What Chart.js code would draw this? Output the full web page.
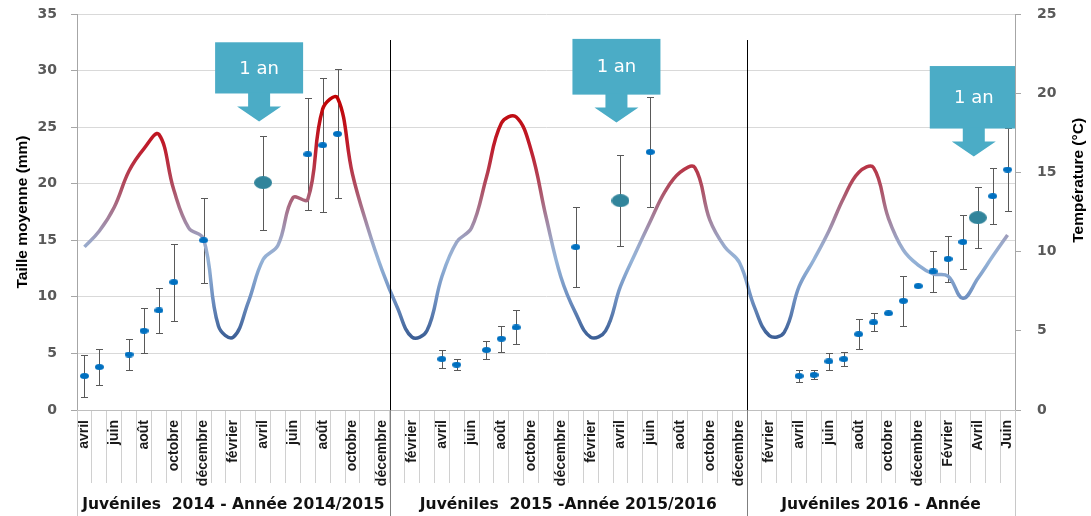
<!DOCTYPE html>
<html lang="fr">
<head>
<meta charset="utf-8">
<title>Taille moyenne des juvéniles et température</title>
<script src="https://cdn.jsdelivr.net/npm/chart.js@4.4.1/dist/chart.umd.min.js"></script>
<style>
  html, body { margin: 0; padding: 0; background: #fff; }
  #wrap { width: 1091px; height: 516px; position: relative; }
</style>
</head>
<body>
<div id="wrap"><canvas id="chart"></canvas></div>
<script>
// one category per month, a label shown every second month
const months = [
  "avril", "mai", "juin", "juillet", "août", "septembre", "octobre", "novembre", "décembre",
  "janvier", "février", "mars", "avril", "mai", "juin", "juillet", "août", "septembre", "octobre", "novembre", "décembre",
  "janvier", "février", "mars", "avril", "mai", "juin", "juillet", "août", "septembre", "octobre", "novembre", "décembre",
  "janvier", "février", "mars", "avril", "mai", "juin", "juillet", "août", "septembre", "octobre", "novembre", "décembre",
  "janvier", "février", "mars", "avril", "mai", "juin", "juillet", "août", "septembre", "octobre", "novembre", "décembre",
  "janvier", "Février", "mars", "Avril", "mai", "Juin"
];

// cohorts (first month index of each block)
const sectionTitles = ["Juvéniles  2014 - Année 2014/2015", "Juvéniles  2015 -Année 2015/2016", "Juvéniles 2016 - Année"];
const sectionStarts = [0, 21, 45];

// water temperature (°C), right axis
const temperature = [
  10.3, 11.3, 12.8, 15.1, 16.5, 17.4, 13.9, 11.5, 10.8,
  5.3, 4.6, 6.8, 9.5, 10.4, 13.4, 13.3, 19.0, 19.7, 14.9, 11.6, 8.8,
  6.5, 4.6, 5.0, 8.4, 10.6, 11.5, 14.7, 18.1, 18.5, 16.4, 12.2, 8.4,
  6.1, 4.6, 5.0, 7.8, 9.9, 11.9, 13.8, 15.0, 15.3, 12.0, 10.3, 9.3,
  6.5, 4.7, 4.9, 7.8, 9.5, 11.3, 13.4, 15.0, 15.3, 12.1, 10.1, 9.15,
  8.6, 8.45, 7.05, 8.3, 9.7, 11.05
];

// mean size (mm) and its error, left axis
const meanSize = [
  3.0, 3.8, null, 4.9, 7.0, 8.8, 11.3, null, 15.0,
  null, null, null, null, null, null, 22.6, 23.4, 24.4, null, null, null,
  null, null, null, 4.5, 4.0, null, 5.3, 6.3, 7.3, null, null, null,
  14.4, null, null, null, null, 22.8, null, null, null, null, null, null,
  null, null, null, 3.0, 3.1, 4.3, 4.5, 6.7, 7.75, 8.55, 9.65, 10.95,
  12.25, 13.35, 14.85, null, 18.9, 21.25
];
const sizeError = [
  1.85, 1.6, null, 1.4, 2.0, 2.0, 3.4, null, 3.75,
  null, null, null, null, null, null, 4.95, 5.9, 5.7, null, null, null,
  null, null, null, 0.8, 0.5, null, 0.8, 1.15, 1.5, null, null, null,
  3.5, null, null, null, null, 4.9, null, null, null, null, null, null,
  null, null, null, 0.55, 0.4, 0.75, 0.65, 1.3, 0.8, null, 2.2, null,
  1.8, 2.0, 2.35, null, 2.5, 3.7
];

// size at one year (mm)
const oneYearIndex = [12, 36, 60];
const oneYearSize = [20.1, 18.5, 17.0];
const oneYearError = [4.15, 4.0, 2.7];
// "1 an" callouts: box top and arrow tip, in mm
const calloutTop = [32.5, 32.8, 30.4];
const calloutTip = [25.5, 25.4, 22.4];

const oneYearSeries = months.map(() => null);
const oneYearErrSeries = months.map(() => null);
oneYearIndex.forEach((m, k) => { oneYearSeries[m] = oneYearSize[k]; oneYearErrSeries[m] = oneYearError[k]; });

function ellipse(w, h, color) {
  const c = document.createElement("canvas");
  c.width = w; c.height = h;
  const g = c.getContext("2d");
  g.fillStyle = color;
  g.beginPath();
  g.ellipse(w / 2, h / 2, w / 2, h / 2, 0, 0, Math.PI * 2);
  g.fill();
  return c;
}
const smallDot = ellipse(9, 6, "#0070C0");
const bigDot = ellipse(18, 13, "#31849B");

// warm = red, cold = blue
const tempStops = [[20, "#C00000"], [16.5, "#BF1E2E"], [14, "#AE4F63"], [12, "#A3849F"],
  [10.5, "#9AA9CA"], [9.5, "#95B3D7"], [7, "#6E8FC0"], [4.5, "#3B5E95"]];
let gradCache = null, gradKey = null;
function tempGradient(chart) {
  const { ctx, chartArea, scales } = chart;
  if (!chartArea) return "#95B3D7";
  const key = chartArea.top + ":" + chartArea.bottom;
  if (gradCache && gradKey === key) return gradCache;
  const y2 = scales.y2;
  const p0 = y2.getPixelForValue(20), p1 = y2.getPixelForValue(4.5);
  const g = ctx.createLinearGradient(0, p0, 0, p1);
  tempStops.forEach(([t, c]) => g.addColorStop((y2.getPixelForValue(t) - p0) / (p1 - p0), c));
  gradCache = g; gradKey = key;
  return g;
}

const labelFont = '"Liberation Sans", Arial, sans-serif';
const tickFont = '"DejaVu Sans", Verdana, sans-serif';

// keep the plot box where the reference has it
function noPadding(s) {
  s.paddingTop = 0; s.paddingBottom = 0; s.paddingLeft = 0; s.paddingRight = 0;
}

function drawErrorBars(chart, values, errors) {
  const { ctx, scales: { x, y } } = chart;
  ctx.save();
  ctx.strokeStyle = "#595959";
  ctx.lineWidth = 1;
  values.forEach((v, i) => {
    const e = errors[i];
    if (v == null || e == null) return;
    const px = Math.round(x.getPixelForValue(i)) + 0.5;
    const top = Math.round(y.getPixelForValue(v + e)) + 0.5;
    const bot = Math.round(y.getPixelForValue(v - e)) + 0.5;
    ctx.beginPath();
    ctx.moveTo(px, top); ctx.lineTo(px, bot);
    ctx.moveTo(px - 3.5, top); ctx.lineTo(px + 3.5, top);
    ctx.moveTo(px - 3.5, bot); ctx.lineTo(px + 3.5, bot);
    ctx.stroke();
  });
  ctx.restore();
}

const decorations = {
  id: "decorations",
  beforeDatasetsDraw(chart) {
    drawErrorBars(chart, meanSize, sizeError);
    drawErrorBars(chart, oneYearSeries, oneYearErrSeries);
  },
  afterDatasetsDraw(chart) {
    const { ctx, chartArea: a, scales: { x, y } } = chart;
    ctx.save();
    // cohort separators in the plot
    ctx.strokeStyle = "#000";
    ctx.lineWidth = 1;
    sectionStarts.slice(1).forEach(s => {
      const px = Math.round((x.getPixelForValue(s - 1) + x.getPixelForValue(s)) / 2) + 0.5;
      ctx.beginPath();
      ctx.moveTo(px, y.getPixelForValue(32.7));
      ctx.lineTo(px, a.bottom);
      ctx.stroke();
    });
    // "1 an" callouts
    ctx.beginPath();
    ctx.rect(a.left, 0, a.right - a.left, a.bottom);
    ctx.clip();
    ctx.fillStyle = "#4BACC6";
    oneYearIndex.forEach((m, k) => {
      const cx = x.getPixelForValue(m) - 4;
      const top = y.getPixelForValue(calloutTop[k]);
      const tip = y.getPixelForValue(calloutTip[k]);
      const boxBottom = tip - 28;
      ctx.fillRect(cx - 44, top, 88, boxBottom - top);
      ctx.beginPath();
      ctx.moveTo(cx - 11, boxBottom - 1);
      ctx.lineTo(cx + 11, boxBottom - 1);
      ctx.lineTo(cx + 11, tip - 15);
      ctx.lineTo(cx + 22, tip - 15);
      ctx.lineTo(cx, tip);
      ctx.lineTo(cx - 22, tip - 15);
      ctx.lineTo(cx - 11, tip - 15);
      ctx.closePath();
      ctx.fill();
      ctx.fillStyle = "#fff";
      ctx.font = "18px " + tickFont;
      ctx.textAlign = "center";
      ctx.textBaseline = "middle";
      ctx.fillText("1 an", cx, (top + boxBottom) / 2 + 1);
      ctx.fillStyle = "#4BACC6";
    });
    ctx.restore();
  },
  afterDraw(chart) {
    const { ctx, chartArea: a, scales: { x, y2 } } = chart;
    const h = chart.height;
    ctx.save();
    // block borders through the label area
    const edges = [a.left, ...sectionStarts.slice(1).map(s => (x.getPixelForValue(s - 1) + x.getPixelForValue(s)) / 2), a.right];
    edges.forEach((e, k) => {
      const px = Math.round(e) + 0.5;
      ctx.strokeStyle = (k === 0 || k === edges.length - 1) ? "#c8c8c8" : "#7f7f7f";
      ctx.beginPath();
      ctx.moveTo(px, a.bottom);
      ctx.lineTo(px, h);
      ctx.stroke();
    });
    // cohort titles
    ctx.fillStyle = "#111";
    ctx.font = "bold 15.5px " + tickFont;
    ctx.textAlign = "center";
    ctx.textBaseline = "middle";
    sectionTitles.forEach((t, k) => {
      ctx.fillText(t, (edges[k] + edges[k + 1]) / 2, h - 11);
    });
    // right axis title
    ctx.translate(chart.width - 12, y2.getPixelForValue(14.5));
    ctx.rotate(-Math.PI / 2);
    ctx.fillStyle = "#000";
    ctx.font = "bold 15.5px " + labelFont;
    ctx.fillText("Température (°C)", 0, 0);
    ctx.restore();
  }
};

new Chart(document.getElementById("chart"), {
  type: "line",
  data: {
    labels: months,
    datasets: [
      {
        label: "Taille moyenne (mm)",
        data: meanSize,
        yAxisID: "y",
        showLine: false,
        pointStyle: smallDot,
        pointRadius: 4,
        order: 0
      },
      {
        label: "Taille à 1 an (mm)",
        data: oneYearSeries,
        yAxisID: "y",
        showLine: false,
        pointStyle: bigDot,
        pointRadius: 8,
        order: 0
      },
      {
        label: "Température (°C)",
        data: temperature,
        yAxisID: "y2",
        borderColor: ctx => tempGradient(ctx.chart),
        borderWidth: 3.5,
        tension: 0.4,
        pointRadius: 0,
        fill: false,
        order: 2
      }
    ]
  },
  options: {
    responsive: true,
    maintainAspectRatio: false,
    animation: false,
    layout: { padding: { top: 14, left: 0, right: 0, bottom: 0 } },
    plugins: {
      legend: { display: false },
      tooltip: { enabled: true }
    },
    scales: {
      x: {
        type: "category",
        offset: true,
        grid: { offset: true, drawOnChartArea: false, drawTicks: true, tickLength: 73, color: "#d0d0d0" },
        border: { color: "#bfbfbf" },
        ticks: {
          autoSkip: false,
          minRotation: 90,
          maxRotation: 90,
          padding: -63,
          color: "#1a1a1a",
          font: { family: labelFont, size: 14, weight: "bold" },
          callback: (v, i) => (i % 2 === 0 ? months[i] : "")
        },
        afterFit: s => { s.height = 106; noPadding(s); }
      },
      y: {
        position: "left",
        min: 0,
        max: 35,
        ticks: { stepSize: 5, padding: 14, color: "#595959", font: { family: tickFont, size: 14, weight: "bold" } },
        grid: { color: "#d9d9d9", tickColor: "#a6a6a6", tickLength: 6 },
        border: { color: "#a6a6a6" },
        title: { display: true, text: "Taille moyenne (mm)", color: "#000", padding: 13, font: { family: labelFont, size: 15.5, weight: "bold" } },
        afterFit: s => { s.width = 77; noPadding(s); }
      },
      y2: {
        position: "right",
        min: 0,
        max: 25,
        ticks: { stepSize: 5, padding: 16, color: "#595959", font: { family: tickFont, size: 14, weight: "bold" } },
        grid: { drawOnChartArea: false, tickColor: "#a6a6a6", tickLength: 6 },
        border: { color: "#a6a6a6" },
        afterFit: s => { s.width = 76; noPadding(s); }
      }
    }
  },
  plugins: [decorations]
});
</script>
</body>
</html>
